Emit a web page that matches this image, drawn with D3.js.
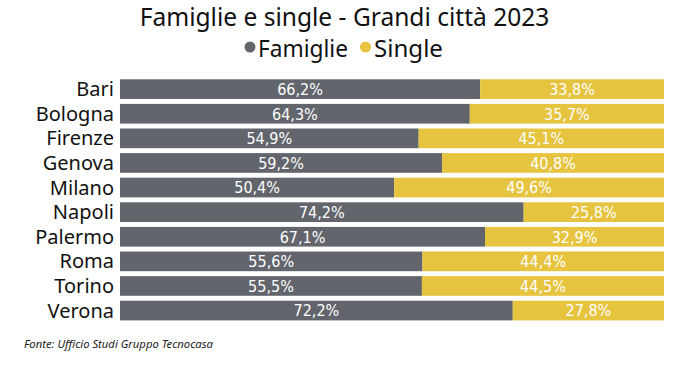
<!DOCTYPE html>
<html>
<head>
<meta charset="utf-8">
<script src="https://cdn.jsdelivr.net/npm/d3@7"></script>
<style>
  body { margin: 0; background: #fff; }
  text { font-family: "Noto Sans", "Open Sans", sans-serif; }
  .val { font-family: "Liberation Sans Narrow", "DejaVu Sans Condensed", sans-serif; font-stretch: condensed; fill: #fff; }
</style>
</head>
<body>
<div id="chart"></div>
<script>
var cities = ["Bari", "Bologna", "Firenze", "Genova", "Milano", "Napoli", "Palermo", "Roma", "Torino", "Verona"];
var famiglie = [66.2, 64.3, 54.9, 59.2, 50.4, 74.2, 67.1, 55.6, 55.5, 72.2];
var single = [33.8, 35.7, 45.1, 40.8, 49.6, 25.8, 32.9, 44.4, 44.5, 27.8];
var seriesNames = ["Famiglie", "Single"];
var colors = ["#62666c", "#e6c43f"];

var W = 693, H = 368;
var svg = d3.select("#chart").append("svg").attr("width", W).attr("height", H);

// fit text to a measured width by changing font size
function fit(t, w) {
  var fs = parseFloat(t.style("font-size"));
  var len = t.node().getComputedTextLength();
  t.style("font-size", (fs * w / len) + "px");
}

var title = svg.append("text").attr("x", 344.5).attr("y", 26).attr("text-anchor", "middle")
  .style("font-size", "24px").style("fill", "#111").text("Famiglie e single - Grandi città 2023");
fit(title, 410);

// legend
var leg = svg.append("g");
var t1 = leg.append("text").attr("x", 258).attr("y", 56.5).style("font-size", "21px").style("fill", "#111").text(seriesNames[0]);
fit(t1, 90);
var t2 = leg.append("text").attr("x", 374).attr("y", 56.5).style("font-size", "21px").style("fill", "#111").text(seriesNames[1]);
fit(t2, 69);
leg.append("circle").attr("cx", 250).attr("cy", 47).attr("r", 5.5).attr("fill", colors[0]);
leg.append("circle").attr("cx", 365.5).attr("cy", 47).attr("r", 5.5).attr("fill", colors[1]);

var x = d3.scaleLinear().domain([0, 100]).range([120, 664]);
var y = d3.scaleBand().domain(cities).range([79.3, 320.4]).paddingInner(0.2).paddingOuter(0);

var data = cities.map(function (c, i) { return { city: c, f: famiglie[i], s: single[i] }; });

var rows = svg.selectAll(".row").data(data).join("g").attr("class", "row");

rows.append("rect").attr("x", x(0)).attr("y", d => y(d.city))
  .attr("width", d => x(d.f) - x(0)).attr("height", y.bandwidth()).attr("fill", colors[0]);
rows.append("rect").attr("x", d => x(d.f)).attr("y", d => y(d.city))
  .attr("width", d => x(d.f + d.s) - x(d.f)).attr("height", y.bandwidth()).attr("fill", colors[1]);

var fmt = v => v.toFixed(1).replace(".", ",") + "%";

rows.append("text").attr("class", "val").attr("text-anchor", "middle")
  .attr("x", d => (x(0) + x(d.f)) / 2).attr("y", d => y(d.city) + y.bandwidth() / 2).attr("dy", "0.36em")
  .style("font-size", "16px").text(d => fmt(d.f));
rows.append("text").attr("class", "val").attr("text-anchor", "middle")
  .attr("x", d => (x(d.f) + x(d.f + d.s)) / 2).attr("y", d => y(d.city) + y.bandwidth() / 2).attr("dy", "0.36em")
  .style("font-size", "16px").text(d => fmt(d.s));

// category axis labels
var yAxis = svg.append("g").attr("transform", "translate(" + 114 + ",0)")
  .call(d3.axisLeft(y).tickSize(0).tickPadding(0));
yAxis.select(".domain").remove();
yAxis.selectAll("text").style("font-family", "'Noto Sans', 'Open Sans', sans-serif")
  .style("font-size", "20px").style("fill", "#111").attr("dy", "0.35em");

var src = svg.append("text").attr("x", 24).attr("y", 348).style("font-size", "11px").style("font-style", "italic")
  .style("fill", "#222").text("Fonte: Ufficio Studi Gruppo Tecnocasa");
fit(src, 189);
</script>
</body>
</html>
